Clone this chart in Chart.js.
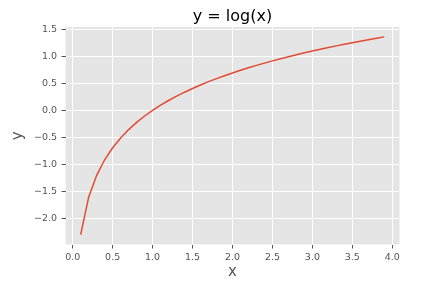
<!DOCTYPE html>
<html>
<head>
<meta charset="utf-8">
<script src="https://cdn.jsdelivr.net/npm/chart.js@4/dist/chart.umd.min.js"></script>
<style>
  body { margin: 0; background: #fff; }
  canvas { display: block; }
</style>
</head>
<body>
<canvas id="myChart" width="439" height="290"></canvas>
<script>
const xValues = [0.1, 0.2, 0.3, 0.4, 0.5, 0.6, 0.7, 0.8, 0.9, 1.0,
  1.1, 1.2, 1.3, 1.4, 1.5, 1.6, 1.7, 1.8, 1.9, 2.0,
  2.1, 2.2, 2.3, 2.4, 2.5, 2.6, 2.7, 2.8, 2.9, 3.0,
  3.1, 3.2, 3.3, 3.4, 3.5, 3.6, 3.7, 3.8, 3.9];
const yValues = [-2.303, -1.609, -1.204, -0.916, -0.693, -0.511, -0.357, -0.223, -0.105, 0.0,
  0.095, 0.182, 0.262, 0.336, 0.405, 0.470, 0.531, 0.588, 0.642, 0.693,
  0.742, 0.788, 0.833, 0.875, 0.916, 0.956, 0.993, 1.030, 1.065, 1.099,
  1.131, 1.163, 1.194, 1.224, 1.253, 1.281, 1.308, 1.335, 1.361];
const xTicks = [0.0, 0.5, 1.0, 1.5, 2.0, 2.5, 3.0, 3.5, 4.0];
const yTicks = [-2.0, -1.5, -1.0, -0.5, 0.0, 0.5, 1.0, 1.5];

const tickGrey = "#555555";
const font = "'DejaVu Sans', sans-serif";

function fmt(v) {
  return v.toFixed(1).replace("-", "\u2212");
}

const bgPlugin = {
  id: "plotBg",
  beforeDraw(chart) {
    const a = chart.chartArea;
    const ctx = chart.ctx;
    ctx.save();
    ctx.fillStyle = "#E5E5E5";
    ctx.fillRect(a.left, a.top, a.right - a.left, a.bottom - a.top);
    ctx.restore();
  }
};

const data = {
  datasets: [{
    label: "log(x)",
    data: xValues.map((x, i) => ({ x: x, y: yValues[i] })),
    borderColor: "#E24A33",
    borderWidth: 1.5,
    pointRadius: 0,
    tension: 0,
    fill: false
  }]
};

const config = {
  type: "line",
  data: data,
  plugins: [bgPlugin],
  options: {
    responsive: false,
    animation: false,
    devicePixelRatio: 1,
    layout: { padding: { left: 0, right: 39.5, top: 0, bottom: 0 } },
    plugins: {
      legend: { display: false },
      tooltip: { enabled: false },
      title: {
        display: true,
        text: "y = log(x)",
        fullSize: false,
        color: "#000",
        font: { family: font, size: 16, weight: "normal" },
        padding: { top: 7.4, bottom: 0.4 }
      }
    },
    scales: {
      x: {
        type: "linear",
        min: -0.09,
        max: 4.09,
        afterBuildTicks: (s) => { s.ticks = xTicks.map(v => ({ value: v })); },
        afterFit: (s) => { s.height = 45.5; },
        border: { display: false },
        grid: { color: "#ffffff", lineWidth: 1, tickColor: tickGrey, tickLength: 4, tickWidth: 1 },
        ticks: {
          color: tickGrey,
          font: { family: font, size: 9.5 },
          padding: 3,
          maxRotation: 0,
          callback: (v) => fmt(v)
        },
        title: {
          display: true,
          text: "x",
          color: tickGrey,
          font: { family: font, size: 15 },
          padding: { top: 0, bottom: 9 }
        }
      },
      y: {
        type: "linear",
        min: -2.486,
        max: 1.544,
        afterBuildTicks: (s) => { s.ticks = yTicks.map(v => ({ value: v })); },
        afterFit: (s) => { s.width = 65.5; },
        border: { display: false },
        grid: { color: "#ffffff", lineWidth: 1, tickColor: tickGrey, tickLength: 4, tickWidth: 1 },
        ticks: {
          color: tickGrey,
          font: { family: font, size: 9.5 },
          padding: 4.5,
          callback: (v) => fmt(v)
        },
        title: {
          display: true,
          text: "y",
          color: tickGrey,
          font: { family: font, size: 15 },
          padding: { top: 8.7, bottom: 0 }
        }
      }
    }
  }
};

new Chart(document.getElementById("myChart"), config);
</script>
</body>
</html>
